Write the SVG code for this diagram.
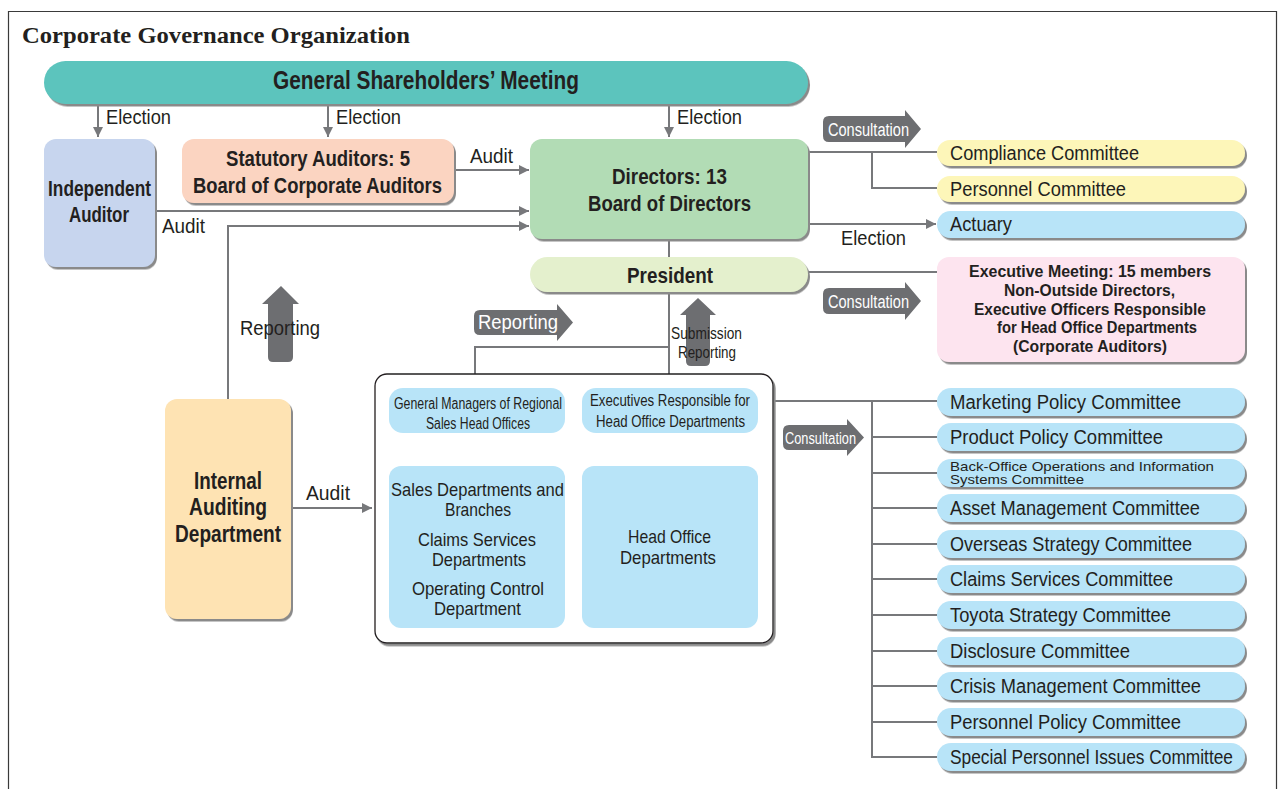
<svg xmlns="http://www.w3.org/2000/svg" width="1279" height="789" viewBox="0 0 1279 789">
<defs>
<filter id="sh" x="-10%" y="-10%" width="130%" height="140%">
<feDropShadow dx="2" dy="2.5" stdDeviation="0.5" flood-color="#8a8a8a" flood-opacity="1"/>
</filter>
<marker id="ah" viewBox="0 0 10 10" refX="10" refY="5" markerWidth="5" markerHeight="5" orient="auto" markerUnits="strokeWidth">
<path d="M0,0 L10,5 L0,10 z" fill="#77787b"/>
</marker>
<style>
text{font-family:"Liberation Sans Narrow","Liberation Sans",Arial,sans-serif;fill:#231f20}
.b{font-weight:bold}
.c{text-anchor:middle}
.ln{fill:none;stroke:#77787b;stroke-width:2}
.arr{marker-end:url(#ah)}
.fat{fill:#6d6e71}
.w{fill:#ffffff}
.node{filter:url(#sh)}
.blue{fill:#b8e4f8}
.com{font-size:20px}
</style>
</defs>
<rect x="0" y="0" width="1279" height="789" fill="#ffffff"/>
<path d="M8.5,789 V11.5 H1276.5 V789" fill="none" stroke="#3a3a3a" stroke-width="1.2"/>
<text x="22" y="43" textLength="388" lengthAdjust="spacingAndGlyphs" style="font-family:'Liberation Serif','Times New Roman',serif;font-weight:bold;font-size:23px">Corporate Governance Organization</text>

<g id="connectors">
<path class="ln arr" d="M98,104 V137"/>
<path class="ln arr" d="M328,104 V137"/>
<path class="ln arr" d="M669,104 V137"/>
<path class="ln arr" d="M454,170 H529"/>
<path class="ln arr" d="M155,211 H529"/>
<path class="ln arr" d="M228,399 V226 H529"/>
<path class="ln" d="M669,239 V257"/>
<path class="ln" d="M669,292 V466"/>
<path class="ln" d="M669,347 H475 V388"/>
<path class="ln" d="M475,433 V466"/>
<path class="ln arr" d="M291,508 H372"/>
<path class="ln" d="M808,152 H937"/>
<path class="ln" d="M872,152 V188 H937"/>
<path class="ln arr" d="M808,224 H936"/>
<path class="ln" d="M808,272 H937"/>
<path class="ln" d="M758,401 H937"/>
<path class="ln" d="M872,401 V757 H937"/>
<path class="ln" d="M872,437 H937 M872,473 H937 M872,508 H937 M872,544 H937 M872,579 H937 M872,615 H937 M872,651 H937 M872,686 H937 M872,722 H937"/>
<text x="106" y="124" font-size="20" textLength="65" lengthAdjust="spacingAndGlyphs">Election</text>
<text x="336" y="124" font-size="20" textLength="65" lengthAdjust="spacingAndGlyphs">Election</text>
<text x="677" y="124" font-size="20" textLength="65" lengthAdjust="spacingAndGlyphs">Election</text>
<text x="470" y="163" font-size="20" textLength="43" lengthAdjust="spacingAndGlyphs">Audit</text>
<text x="162" y="233" font-size="20" textLength="43" lengthAdjust="spacingAndGlyphs">Audit</text>
<text x="306" y="500" font-size="20" textLength="44" lengthAdjust="spacingAndGlyphs">Audit</text>
<text x="841" y="245" font-size="20" textLength="65" lengthAdjust="spacingAndGlyphs">Election</text>
</g>

<g id="fat-arrows">
<g id="consult1">
<path class="fat" d="M829,116 H905 V110 L921,129 L905,148 V142 H829 Q823,142 823,136 V122 Q823,116 829,116 z"/>
<text class="w" x="828" y="136" font-size="18" textLength="81" lengthAdjust="spacingAndGlyphs">Consultation</text>
</g>
<g id="consult2">
<path class="fat" d="M829,288 H905 V282 L921,301 L905,320 V314 H829 Q823,314 823,308 V294 Q823,288 829,288 z"/>
<text class="w" x="828" y="308" font-size="18" textLength="81" lengthAdjust="spacingAndGlyphs">Consultation</text>
</g>
<g id="consult3">
<path class="fat" d="M789,425 H847 V419 L864,437.5 L847,456 V450 H789 Q783,450 783,444 V431 Q783,425 789,425 z"/>
<text class="w" x="785" y="444" font-size="16" textLength="71" lengthAdjust="spacingAndGlyphs">Consultation</text>
</g>
<g id="report-right">
<path class="fat" d="M480,310 H557 V304 L573,322.5 L557,341 V335 H480 Q474,335 474,329 V316 Q474,310 480,310 z"/>
<text class="w" x="478" y="329" font-size="20" textLength="80" lengthAdjust="spacingAndGlyphs">Reporting</text>
</g>
<g id="report-up-left">
<path class="fat" d="M281,286 L299,304 H293 V357 Q293,362 288,362 H273 Q268,362 268,357 V304 H262 z"/>
<text x="240" y="335" font-size="20" textLength="80" lengthAdjust="spacingAndGlyphs">Reporting</text>
</g>
<g id="report-up-mid">
<path class="fat" d="M698,298 L716,315 H710 V361 Q710,366 705,366 H691 Q686,366 686,361 V315 H680 z"/>
<text x="671" y="339" font-size="17" textLength="71" lengthAdjust="spacingAndGlyphs">Submission</text>
<text x="678" y="358" font-size="17" textLength="58" lengthAdjust="spacingAndGlyphs">Reporting</text>
</g>
</g>

<g id="shareholders">
<rect class="node" x="44" y="61" width="764" height="43" rx="21.5" fill="#5cc4bd"/>
<text class="b" x="273" y="89" font-size="26" textLength="306" lengthAdjust="spacingAndGlyphs">General Shareholders’ Meeting</text>
</g>
<g id="independent-auditor">
<rect class="node" x="44" y="139" width="111" height="128" rx="12" fill="#c7d5ee"/>
<text class="b" x="48" y="196" font-size="22" textLength="103" lengthAdjust="spacingAndGlyphs">Independent</text>
<text class="b" x="69" y="222" font-size="22" textLength="60" lengthAdjust="spacingAndGlyphs">Auditor</text>
</g>
<g id="statutory-auditors">
<rect class="node" x="182" y="139" width="272" height="64" rx="12" fill="#fbd4c1"/>
<text class="b" x="226" y="166" font-size="22" textLength="184" lengthAdjust="spacingAndGlyphs">Statutory Auditors: 5</text>
<text class="b" x="193" y="193" font-size="22" textLength="249" lengthAdjust="spacingAndGlyphs">Board of Corporate Auditors</text>
</g>
<g id="directors">
<rect class="node" x="530" y="139" width="278" height="100" rx="12" fill="#b2dcb5"/>
<text class="b" x="612" y="184" font-size="22" textLength="115" lengthAdjust="spacingAndGlyphs">Directors: 13</text>
<text class="b" x="588" y="211" font-size="22" textLength="163" lengthAdjust="spacingAndGlyphs">Board of Directors</text>
</g>
<g id="president">
<rect class="node" x="530" y="257" width="278" height="35" rx="17.5" fill="#e4f0cd"/>
<text class="b" x="627" y="283" font-size="22" textLength="86" lengthAdjust="spacingAndGlyphs">President</text>
</g>
<g id="internal-auditing">
<rect class="node" x="165" y="399" width="126" height="220" rx="12" fill="#fee3b3"/>
<text class="b" x="194" y="489" font-size="23" textLength="68" lengthAdjust="spacingAndGlyphs">Internal</text>
<text class="b" x="189" y="515" font-size="23" textLength="78" lengthAdjust="spacingAndGlyphs">Auditing</text>
<text class="b" x="175" y="542" font-size="23" textLength="106" lengthAdjust="spacingAndGlyphs">Department</text>
</g>
<g id="operations-frame">
<rect class="node" x="375" y="374" width="398" height="269" rx="12" fill="#ffffff" stroke="#231f20" stroke-width="1.3"/>
</g>
<g id="gm-regional">
<rect class="blue" x="389" y="388" width="176" height="45" rx="14"/>
<text x="394" y="409" font-size="16" textLength="168" lengthAdjust="spacingAndGlyphs">General Managers of Regional</text>
<text x="426" y="429" font-size="16" textLength="104" lengthAdjust="spacingAndGlyphs">Sales Head Offices</text>
</g>
<g id="exec-responsible">
<rect class="blue" x="582" y="388" width="176" height="45" rx="14"/>
<text x="590" y="406" font-size="16" textLength="160" lengthAdjust="spacingAndGlyphs">Executives Responsible for</text>
<text x="596" y="427" font-size="16" textLength="149" lengthAdjust="spacingAndGlyphs">Head Office Departments</text>
</g>
<g id="sales-depts">
<rect class="blue" x="389" y="466" width="176" height="162" rx="12"/>
<text x="391" y="496" font-size="19" textLength="173" lengthAdjust="spacingAndGlyphs">Sales Departments and</text>
<text x="445" y="516" font-size="19" textLength="66" lengthAdjust="spacingAndGlyphs">Branches</text>
<text x="418" y="546" font-size="19" textLength="118" lengthAdjust="spacingAndGlyphs">Claims Services</text>
<text x="432" y="566" font-size="19" textLength="94" lengthAdjust="spacingAndGlyphs">Departments</text>
<text x="412" y="595" font-size="19" textLength="132" lengthAdjust="spacingAndGlyphs">Operating Control</text>
<text x="434" y="615" font-size="19" textLength="87" lengthAdjust="spacingAndGlyphs">Department</text>
</g>
<g id="head-office">
<rect class="blue" x="582" y="466" width="176" height="162" rx="12"/>
<text x="628" y="543" font-size="19" textLength="83" lengthAdjust="spacingAndGlyphs">Head Office</text>
<text x="620" y="564" font-size="19" textLength="96" lengthAdjust="spacingAndGlyphs">Departments</text>
</g>

<g id="compliance"><rect class="node" x="937" y="140" width="308" height="26" rx="13" fill="#fdf6b9"/><text class="com" x="950" y="160" textLength="189" lengthAdjust="spacingAndGlyphs">Compliance Committee</text></g>
<g id="personnel"><rect class="node" x="937" y="176" width="308" height="26" rx="13" fill="#fdf6b9"/><text class="com" x="950" y="196" textLength="176" lengthAdjust="spacingAndGlyphs">Personnel Committee</text></g>
<g id="actuary"><rect class="node blue" x="937" y="211" width="308" height="27" rx="13.5"/><text class="com" x="950" y="231" textLength="62" lengthAdjust="spacingAndGlyphs">Actuary</text></g>
<g id="exec-meeting">
<rect class="node" x="937" y="257" width="308" height="105" rx="12" fill="#fde4ef"/>
<text class="b" x="969" y="277" font-size="16" textLength="242" lengthAdjust="spacingAndGlyphs">Executive Meeting: 15 members</text>
<text class="b" x="1004" y="296" font-size="16" textLength="171" lengthAdjust="spacingAndGlyphs">Non-Outside Directors,</text>
<text class="b" x="974" y="315" font-size="16" textLength="232" lengthAdjust="spacingAndGlyphs">Executive Officers Responsible</text>
<text class="b" x="997" y="333" font-size="16" textLength="200" lengthAdjust="spacingAndGlyphs">for Head Office Departments</text>
<text class="b" x="1013" y="352" font-size="16" textLength="154" lengthAdjust="spacingAndGlyphs">(Corporate Auditors)</text>
</g>

<g id="marketing"><rect class="node blue" x="937" y="388" width="308" height="28" rx="14"/><text class="com" x="950" y="409" textLength="231" lengthAdjust="spacingAndGlyphs">Marketing Policy Committee</text></g>
<g id="product"><rect class="node blue" x="937" y="423" width="308" height="28" rx="14"/><text class="com" x="950" y="444" textLength="213" lengthAdjust="spacingAndGlyphs">Product Policy Committee</text></g>
<g id="backoffice"><rect class="node blue" x="937" y="459" width="308" height="28" rx="14"/><text x="950" y="471" textLength="264" lengthAdjust="spacingAndGlyphs" style="font-family:'Liberation Sans',Arial,sans-serif;font-size:13px">Back-Office Operations and Information</text><text x="950" y="484" textLength="134" lengthAdjust="spacingAndGlyphs" style="font-family:'Liberation Sans',Arial,sans-serif;font-size:13px">Systems Committee</text></g>
<g id="asset"><rect class="node blue" x="937" y="494" width="308" height="28" rx="14"/><text class="com" x="950" y="515" textLength="250" lengthAdjust="spacingAndGlyphs">Asset Management Committee</text></g>
<g id="overseas"><rect class="node blue" x="937" y="530" width="308" height="28" rx="14"/><text class="com" x="950" y="551" textLength="242" lengthAdjust="spacingAndGlyphs">Overseas Strategy Committee</text></g>
<g id="claims"><rect class="node blue" x="937" y="565" width="308" height="28" rx="14"/><text class="com" x="950" y="586" textLength="223" lengthAdjust="spacingAndGlyphs">Claims Services Committee</text></g>
<g id="toyota"><rect class="node blue" x="937" y="601" width="308" height="28" rx="14"/><text class="com" x="950" y="622" textLength="221" lengthAdjust="spacingAndGlyphs">Toyota Strategy Committee</text></g>
<g id="disclosure"><rect class="node blue" x="937" y="637" width="308" height="28" rx="14"/><text class="com" x="950" y="658" textLength="180" lengthAdjust="spacingAndGlyphs">Disclosure Committee</text></g>
<g id="crisis"><rect class="node blue" x="937" y="672" width="308" height="28" rx="14"/><text class="com" x="950" y="693" textLength="251" lengthAdjust="spacingAndGlyphs">Crisis Management Committee</text></g>
<g id="personnel-policy"><rect class="node blue" x="937" y="708" width="308" height="28" rx="14"/><text class="com" x="950" y="729" textLength="231" lengthAdjust="spacingAndGlyphs">Personnel Policy Committee</text></g>
<g id="special-personnel"><rect class="node blue" x="937" y="743" width="308" height="28" rx="14"/><text class="com" x="950" y="764" textLength="283" lengthAdjust="spacingAndGlyphs">Special Personnel Issues Committee</text></g>
</svg>
